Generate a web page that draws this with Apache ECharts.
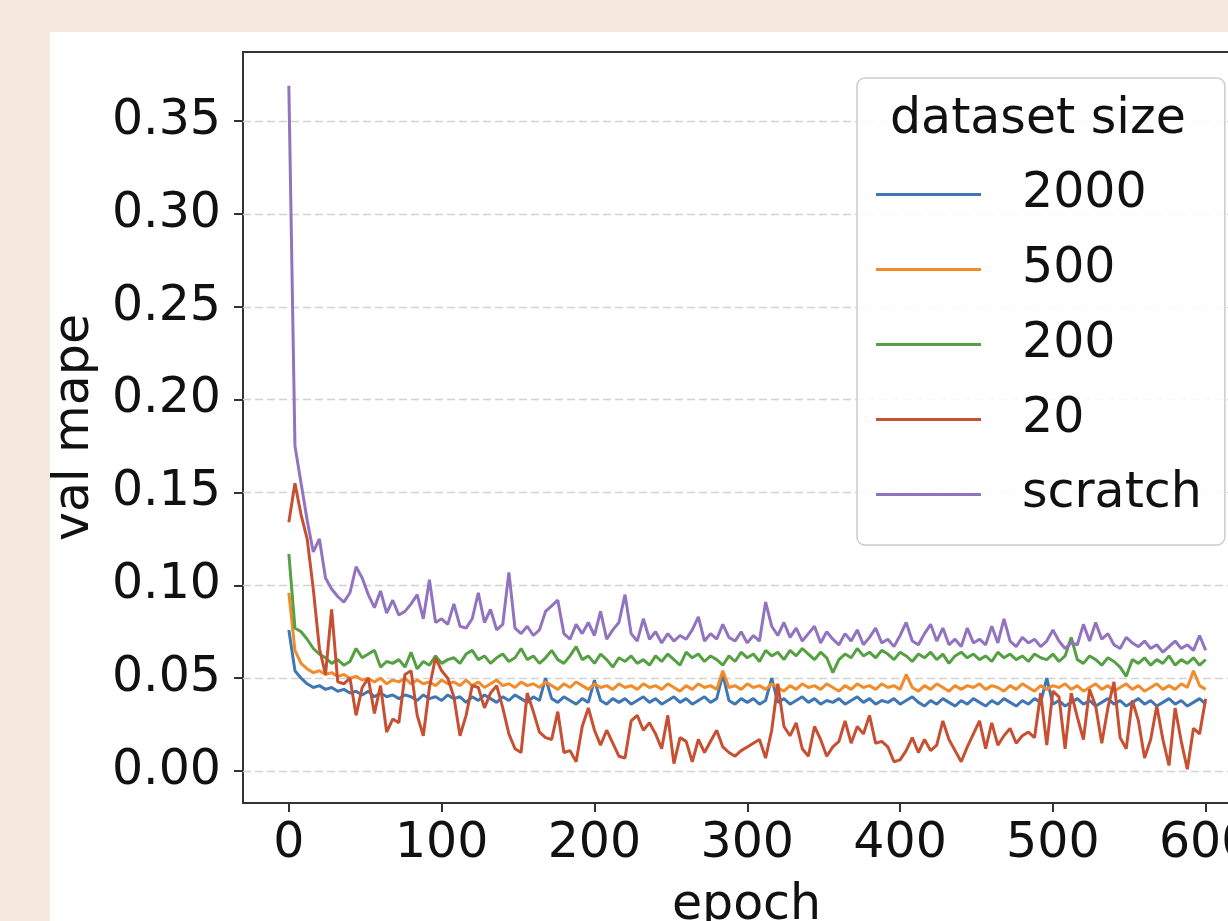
<!DOCTYPE html>
<html>
<head>
<meta charset="utf-8">
<script src="https://cdn.jsdelivr.net/npm/echarts@6.0.0/dist/echarts.min.js"></script>
<style>
  html, body { margin: 0; padding: 0; overflow: hidden; background: #f6e9e0; }
  #main { width: 1228px; height: 921px; }
</style>
</head>
<body>
<div id="main"></div>
<script>
// epochs sampled every 4 epochs, 0..600
const epochs = Array.from({ length: 151 }, (_, i) => i * 4)

const seriesNames = ['2000', '500', '200', '20', 'scratch']
const colors = ['#3f77b5', '#f08c2c', '#55a043', '#c74f32', '#9273c0']

const size2000 = [
  0.076, 0.054, 0.050, 0.047, 0.045, 0.046, 0.044, 0.045, 0.043, 0.044,
  0.042, 0.043, 0.041, 0.043, 0.040, 0.042, 0.040, 0.041, 0.039, 0.041,
  0.040, 0.038, 0.041, 0.039, 0.040, 0.038, 0.041, 0.039, 0.040, 0.037,
  0.040, 0.038, 0.041, 0.039, 0.037, 0.040, 0.038, 0.041, 0.039, 0.037,
  0.040, 0.038, 0.050, 0.039, 0.037, 0.040, 0.038, 0.036, 0.039, 0.037,
  0.049, 0.038, 0.036, 0.039, 0.037, 0.039, 0.036, 0.038, 0.040, 0.037,
  0.039, 0.036, 0.038, 0.040, 0.037, 0.039, 0.036, 0.038, 0.040, 0.037,
  0.039, 0.052, 0.038, 0.036, 0.039, 0.037, 0.039, 0.036, 0.038, 0.050,
  0.037, 0.039, 0.036, 0.038, 0.040, 0.037, 0.039, 0.036, 0.038, 0.037,
  0.039, 0.036, 0.038, 0.040, 0.037, 0.039, 0.036, 0.038, 0.037, 0.039,
  0.036, 0.038, 0.040, 0.037, 0.035, 0.038, 0.036, 0.039, 0.037, 0.035,
  0.038, 0.036, 0.039, 0.037, 0.035, 0.038, 0.036, 0.039, 0.037, 0.035,
  0.038, 0.036, 0.039, 0.037, 0.050, 0.036, 0.038, 0.035, 0.037, 0.039,
  0.036, 0.038, 0.035, 0.037, 0.039, 0.036, 0.038, 0.035, 0.037, 0.039,
  0.036, 0.038, 0.035, 0.037, 0.039, 0.036, 0.038, 0.035, 0.037, 0.039,
  0.036
]

const size500 = [
  0.096, 0.065, 0.058, 0.055, 0.053, 0.054, 0.052, 0.053, 0.051, 0.052,
  0.050, 0.051, 0.049, 0.050, 0.048, 0.050, 0.047, 0.049, 0.048, 0.050,
  0.047, 0.049, 0.047, 0.048, 0.046, 0.049, 0.047, 0.048, 0.046, 0.049,
  0.046, 0.048, 0.045, 0.047, 0.049, 0.046, 0.047, 0.045, 0.048, 0.046,
  0.047, 0.045, 0.048, 0.046, 0.044, 0.047, 0.045, 0.048, 0.046, 0.044,
  0.047, 0.045, 0.046, 0.044, 0.047, 0.045, 0.046, 0.044, 0.047, 0.045,
  0.046, 0.044, 0.047, 0.045, 0.043, 0.046, 0.044, 0.047, 0.045, 0.046,
  0.044, 0.054, 0.045, 0.046, 0.044, 0.047, 0.045, 0.046, 0.044, 0.047,
  0.045, 0.043, 0.046, 0.044, 0.047, 0.045, 0.046, 0.044, 0.047, 0.045,
  0.043, 0.046, 0.044, 0.047, 0.045, 0.046, 0.044, 0.047, 0.045, 0.046,
  0.044, 0.052, 0.045, 0.043, 0.046, 0.044, 0.047, 0.045, 0.043, 0.046,
  0.044, 0.046, 0.045, 0.047, 0.044, 0.046, 0.045, 0.043, 0.046, 0.044,
  0.047, 0.045, 0.043, 0.046, 0.044, 0.046, 0.045, 0.047, 0.044, 0.046,
  0.043, 0.045, 0.047, 0.044, 0.046, 0.043, 0.045, 0.047, 0.044, 0.046,
  0.043, 0.045, 0.047, 0.044, 0.046, 0.044, 0.047, 0.045, 0.054, 0.046,
  0.044
]

const size200 = [
  0.117, 0.077, 0.075, 0.071, 0.066, 0.063, 0.061, 0.058, 0.060, 0.057,
  0.059, 0.066, 0.061, 0.063, 0.065, 0.056, 0.059, 0.058, 0.060, 0.056,
  0.064, 0.055, 0.059, 0.057, 0.062, 0.058, 0.060, 0.061, 0.058, 0.063,
  0.065, 0.060, 0.062, 0.058, 0.061, 0.063, 0.059, 0.061, 0.066, 0.060,
  0.062, 0.058, 0.061, 0.065, 0.060, 0.058, 0.062, 0.067, 0.060, 0.062,
  0.058, 0.063, 0.060, 0.056, 0.061, 0.059, 0.062, 0.058, 0.060, 0.057,
  0.062, 0.059, 0.063, 0.060, 0.057, 0.064, 0.061, 0.063, 0.059, 0.062,
  0.060, 0.057, 0.062, 0.059, 0.064, 0.061, 0.063, 0.059, 0.065, 0.062,
  0.064, 0.060, 0.065, 0.062, 0.066, 0.063, 0.060, 0.064, 0.061, 0.053,
  0.060, 0.063, 0.061, 0.066, 0.062, 0.064, 0.061, 0.065, 0.063, 0.060,
  0.064, 0.062, 0.059, 0.063, 0.061, 0.064, 0.060, 0.063, 0.058, 0.062,
  0.064, 0.061, 0.063, 0.060, 0.062, 0.059, 0.064, 0.061, 0.063, 0.060,
  0.062, 0.059, 0.063, 0.061, 0.060, 0.063, 0.059, 0.062, 0.072, 0.060,
  0.058, 0.062, 0.060, 0.057, 0.061, 0.059, 0.056, 0.051, 0.060, 0.058,
  0.061, 0.057, 0.060, 0.058, 0.062, 0.057, 0.060, 0.058, 0.061, 0.057,
  0.060
]

const size20 = [
  0.134, 0.155, 0.138, 0.125, 0.098, 0.066, 0.052, 0.087, 0.048, 0.047,
  0.050, 0.030, 0.045, 0.050, 0.031, 0.046, 0.021, 0.028, 0.026, 0.052,
  0.054, 0.030, 0.019, 0.045, 0.061, 0.054, 0.050, 0.040, 0.019, 0.030,
  0.046, 0.045, 0.034, 0.042, 0.046, 0.034, 0.020, 0.012, 0.010, 0.042,
  0.032, 0.021, 0.018, 0.017, 0.032, 0.010, 0.011, 0.005, 0.024, 0.034,
  0.022, 0.014, 0.022, 0.015, 0.008, 0.007, 0.027, 0.030, 0.022, 0.026,
  0.020, 0.012, 0.030, 0.004, 0.018, 0.016, 0.005, 0.017, 0.010, 0.016,
  0.022, 0.013, 0.010, 0.008, 0.011, 0.013, 0.015, 0.017, 0.007, 0.022,
  0.047, 0.024, 0.019, 0.026, 0.012, 0.008, 0.024, 0.017, 0.008, 0.013,
  0.016, 0.027, 0.015, 0.024, 0.020, 0.030, 0.015, 0.016, 0.013, 0.005,
  0.006, 0.011, 0.018, 0.010, 0.017, 0.011, 0.014, 0.027, 0.017, 0.011,
  0.005, 0.013, 0.020, 0.027, 0.012, 0.026, 0.014, 0.019, 0.023, 0.015,
  0.019, 0.021, 0.018, 0.042, 0.014, 0.043, 0.040, 0.012, 0.042, 0.029,
  0.017, 0.044, 0.035, 0.015, 0.034, 0.048, 0.018, 0.012, 0.038, 0.027,
  0.007, 0.017, 0.035, 0.017, 0.003, 0.034, 0.016, 0.001, 0.023, 0.020,
  0.039
]

const scratch = [
  0.369, 0.175, 0.155, 0.135, 0.118, 0.125, 0.104, 0.098, 0.094, 0.091,
  0.096, 0.110, 0.104, 0.095, 0.088, 0.097, 0.085, 0.092, 0.084, 0.086,
  0.090, 0.095, 0.082, 0.103, 0.080, 0.082, 0.079, 0.090, 0.078, 0.077,
  0.082, 0.096, 0.080, 0.087, 0.076, 0.079, 0.107, 0.077, 0.074, 0.078,
  0.073, 0.076, 0.086, 0.089, 0.092, 0.074, 0.071, 0.079, 0.074, 0.080,
  0.073, 0.086, 0.071, 0.076, 0.080, 0.095, 0.074, 0.070, 0.082, 0.071,
  0.075, 0.069, 0.074, 0.070, 0.073, 0.071, 0.076, 0.083, 0.070, 0.074,
  0.071, 0.079, 0.072, 0.070, 0.075, 0.069, 0.073, 0.070, 0.091, 0.078,
  0.073, 0.080, 0.072, 0.077, 0.070, 0.074, 0.078, 0.069, 0.075, 0.071,
  0.068, 0.074, 0.070, 0.076, 0.068, 0.072, 0.077, 0.069, 0.071, 0.067,
  0.073, 0.080, 0.070, 0.068, 0.074, 0.079, 0.070, 0.077, 0.068, 0.071,
  0.067, 0.077, 0.069, 0.071, 0.068, 0.078, 0.069, 0.082, 0.070, 0.067,
  0.072, 0.069, 0.071, 0.067, 0.070, 0.076, 0.070, 0.066, 0.069, 0.068,
  0.079, 0.070, 0.080, 0.071, 0.074, 0.068, 0.066, 0.072, 0.069, 0.067,
  0.070, 0.066, 0.068, 0.064, 0.067, 0.070, 0.066, 0.068, 0.065, 0.073,
  0.065
]

const yTicks = [0, 0.05, 0.10, 0.15, 0.20, 0.25, 0.30, 0.35]
const xTicks = [0, 100, 200, 300, 400, 500, 600]

const allValues = [size2000, size500, size200, size20, scratch]
const font = 'DejaVu Sans'

let series = seriesNames.map((name, k) => ({
    name: name,
    type: 'line',
    data: epochs.map((e, i) => [e, allValues[k][i]]),
    showSymbol: false,
    symbol: 'none',
    lineStyle: { width: 3, color: colors[k] },
    itemStyle: { color: colors[k] },
    z: 2 + k,
}))

series[0].markLine = {
    silent: true,
    symbol: 'none',
    z: 1,
    label: { show: false },
    lineStyle: { color: '#d2d2d2', width: 1.3, type: [8, 4] },
    data: yTicks.map(v => ({ yAxis: v })),
}

const chart = echarts.init(document.getElementById('main'))
chart.setOption({
    animation: false,
    backgroundColor: '#f6e9e0',
    graphic: [{
        type: 'rect',
        z: -10,
        shape: { x: 50, y: 32, width: 1200, height: 900 },
        style: { fill: '#ffffff' },
    }],
    grid: {
        left: 243,
        top: 52,
        width: 1007,
        height: 751,
        outerBoundsMode: 'none',
        containLabel: false,
        show: true,
        borderColor: '#333333',
        borderWidth: 2,
        backgroundColor: 'transparent',
    },
    title: {
        text: 'dataset size',
        left: 890,
        top: 96,
        padding: 0,
        textStyle: { fontFamily: font, fontSize: 49, fontWeight: 'normal', color: '#111' },
        z: 10,
    },
    legend: {
        orient: 'vertical',
        left: 857,
        top: 78,
        data: seriesNames,
        icon: 'rect',
        itemWidth: 105,
        itemHeight: 3,
        itemGap: 26,
        padding: [92, 23, 26, 19],
        borderColor: '#cccccc',
        borderWidth: 1.5,
        borderRadius: 8,
        backgroundColor: 'rgba(255,255,255,0.85)',
        textStyle: {
            fontFamily: font, fontSize: 49, color: '#111',
            lineHeight: 49, padding: [0, 0, 0, 36],
        },
        z: 9,
    },
    xAxis: {
        type: 'value',
        min: -30,
        max: 629,
        name: 'epoch',
        nameLocation: 'middle',
        nameGap: 79,
        nameTextStyle: { fontFamily: font, fontSize: 49, color: '#111' },
        axisLine: { show: false, onZero: false },
        axisTick: { show: true, length: 9, lineStyle: { color: '#333', width: 2 }, customValues: xTicks },
        axisLabel: {
            fontFamily: font, fontSize: 49, color: '#111', margin: 17,
            customValues: xTicks,
        },
        splitLine: { show: false },
    },
    yAxis: {
        type: 'value',
        min: -0.0172,
        max: 0.3872,
        name: 'val mape',
        nameLocation: 'middle',
        nameGap: 143,
        nameTextStyle: { fontFamily: font, fontSize: 49, color: '#111' },
        axisLine: { show: false, onZero: false },
        axisTick: { show: true, length: 9, lineStyle: { color: '#333', width: 2 }, customValues: yTicks },
        axisLabel: {
            fontFamily: font, fontSize: 49, color: '#111', margin: 22,
            customValues: yTicks,
            formatter: v => v.toFixed(2),
        },
        splitLine: { show: false },
    },
    series: series,
})
</script>
</body>
</html>
